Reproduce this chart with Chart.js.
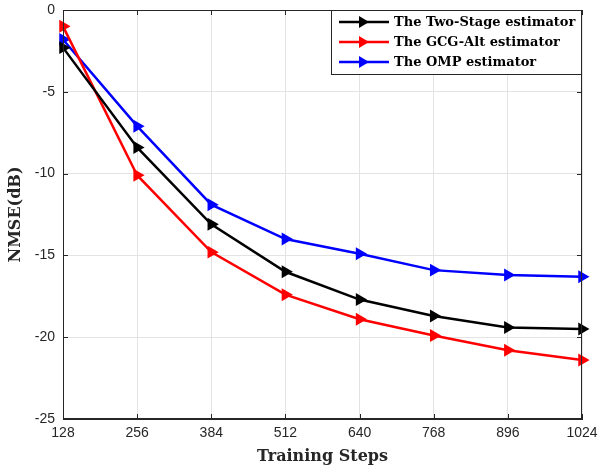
<!DOCTYPE html>
<html>
<head>
<meta charset="utf-8">
<script src="https://cdn.jsdelivr.net/npm/chart.js@4/dist/chart.umd.min.js"></script>
<style>
  html, body { margin: 0; padding: 0; background: #fff; }
</style>
</head>
<body>
<canvas id="myChart" width="599" height="470"></canvas>
<script>
// data
var steps = ["128", "256", "384", "512", "640", "768", "896", "1024"];
var twoStage = [-2.3, -8.4, -13.1, -16.0, -17.7, -18.7, -19.4, -19.5];
var gcgAlt   = [-1.0, -10.1, -14.8, -17.4, -18.9, -19.9, -20.8, -21.4];
var omp      = [-1.8, -7.1, -11.9, -14.0, -14.9, -15.9, -16.2, -16.3];
var seriesNames = ["The Two-Stage estimator", "The GCG-Alt estimator", "The OMP estimator"];
var seriesColors = ["#000000", "#ff0000", "#0000ff"];

var axisColor = "#262626";
var serif = "'DejaVu Serif', 'Liberation Serif', serif";
var sans = "'Liberation Sans', Arial, sans-serif";

function makeSet(i, vals) {
  return {
    label: seriesNames[i],
    data: vals,
    borderColor: seriesColors[i],
    backgroundColor: seriesColors[i],
    borderWidth: 2.5,
    pointStyle: 'triangle',
    rotation: 90,
    pointRadius: 5,
    pointHoverRadius: 5,
    tension: 0,
    clip: false
  };
}

// box, inward ticks and legend drawn on top
var frame = {
  id: 'frame',
  afterDraw: function(chart) {
    var c = chart.ctx, a = chart.chartArea;
    var xs = chart.scales.x, ys = chart.scales.y;
    c.save();
    c.strokeStyle = axisColor;
    c.lineWidth = 1;
    c.strokeRect(a.left + 0.5, a.top + 0.5, a.right - a.left - 1, a.bottom - a.top - 1);
    c.beginPath();
    for (var i = 0; i < steps.length; i++) {
      var px = Math.round(xs.getPixelForValue(i)) + 0.5;
      c.moveTo(px, a.bottom); c.lineTo(px, a.bottom - 5);
      c.moveTo(px, a.top); c.lineTo(px, a.top + 5);
    }
    for (var v = -25; v <= 0; v += 5) {
      var py = Math.round(ys.getPixelForValue(v)) + 0.5;
      c.moveTo(a.left, py); c.lineTo(a.left + 5, py);
      c.moveTo(a.right, py); c.lineTo(a.right - 5, py);
    }
    c.stroke();

    // legend
    var bx = 331, by = a.top, bw = a.right - 331, bh = 65;
    c.fillStyle = '#fff';
    c.fillRect(bx, by, bw, bh);
    c.strokeRect(bx + 0.5, by + 0.5, bw - 1, bh - 1);
    c.font = "bold 13px " + serif;
    c.textBaseline = 'middle';
    for (var k = 0; k < 3; k++) {
      var ry = by + 12 + k * 20;
      c.strokeStyle = seriesColors[k];
      c.fillStyle = seriesColors[k];
      c.lineWidth = 2.5;
      c.beginPath(); c.moveTo(339, ry); c.lineTo(389, ry); c.stroke();
      c.beginPath();
      c.moveTo(369, ry); c.lineTo(359, ry - 6); c.lineTo(359, ry + 6); c.closePath(); c.fill();
      c.fillStyle = '#000';
      c.fillText(seriesNames[k], 394, ry + 1);
    }
    c.restore();
  }
};

var ctx = document.getElementById("myChart").getContext('2d');
var myChart = new Chart(ctx, {
  type: 'line',
  data: {
    labels: steps,
    datasets: [makeSet(0, twoStage), makeSet(1, gcgAlt), makeSet(2, omp)]
  },
  options: {
    responsive: false,
    animation: false,
    layout: { padding: { left: 0, right: 17, top: 10, bottom: 0 } },
    plugins: { legend: { display: false }, tooltip: { enabled: false } },
    scales: {
      x: {
        offset: false,
        grid: { color: '#e3e3e3', drawTicks: false },
        border: { color: axisColor },
        ticks: { color: axisColor, padding: 6, maxRotation: 0, autoSkip: false,
                 font: { family: sans, size: 14 } },
        title: { display: true, text: 'Training Steps', color: axisColor,
                 font: { family: serif, size: 16, weight: 'bold' }, padding: { top: 2, bottom: 4 } },
        afterFit: function(s) { s.height = 51; s.paddingLeft = 0; s.paddingRight = 0; }
      },
      y: {
        min: -25, max: 0,
        grid: { color: '#e3e3e3', drawTicks: false },
        border: { color: axisColor },
        ticks: { stepSize: 5, color: axisColor, padding: 8,
                 font: { family: sans, size: 14 } },
        title: { display: true, text: 'NMSE(dB)', color: axisColor,
                 font: { family: serif, size: 16, weight: 'bold' }, padding: { top: 6, bottom: 0 } },
        afterFit: function(s) { s.width = 63; s.paddingTop = 0; s.paddingBottom = 0; }
      }
    }
  },
  plugins: [frame]
});
</script>
</body>
</html>
